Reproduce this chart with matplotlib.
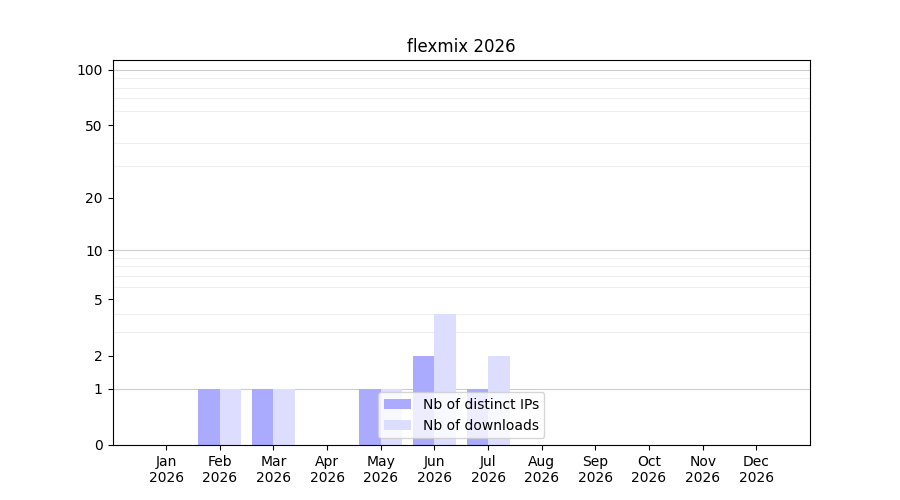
import matplotlib
matplotlib.use("Agg")
import matplotlib.pyplot as plt
import numpy as np

months = ["Jan\n2026", "Feb\n2026", "Mar\n2026", "Apr\n2026", "May\n2026", "Jun\n2026",
          "Jul\n2026", "Aug\n2026", "Sep\n2026", "Oct\n2026", "Nov\n2026", "Dec\n2026"]
distinct_ips = [0, 1, 1, 0, 1, 2, 1, 0, 0, 0, 0, 0]
downloads = [0, 1, 1, 0, 1, 4, 2, 0, 0, 0, 0, 0]
ytick_values = [0, 1, 2, 5, 10, 20, 50, 100]

fig, ax = plt.subplots(figsize=(9, 5), dpi=100)
ax.set_yscale("function", functions=(np.log1p, np.expm1))

x = np.arange(len(months))
ax.set_axisbelow(True)
minor = list(range(2, 10)) + list(range(20, 100, 10))
ax.set_yticks(minor, minor=True)
ax.tick_params(axis="y", which="minor", length=0)
ax.grid(True, axis="y", which="minor", color="#eeeeee", linewidth=0.8)
for v in (1, 10, 100):
    ax.axhline(v, color="#cccccc", linewidth=0.8, zorder=0.5)

ax.bar(x - 0.2, distinct_ips, width=0.4, color="#aaaaff", label="Nb of distinct IPs", zorder=2)
ax.bar(x + 0.2, downloads, width=0.4, color="#ddddff", label="Nb of downloads", zorder=2)

ax.set_yticks(ytick_values)
ax.set_yticklabels([str(v) for v in ytick_values])
ax.set_ylim(0, 113)
ax.set_xticks(x)
ax.set_xticklabels(months)
ax.set_xlim(-1, 12)
ax.set_title("flexmix 2026")
ax.legend(loc="lower center")

fig.savefig("out.png", dpi=100)
